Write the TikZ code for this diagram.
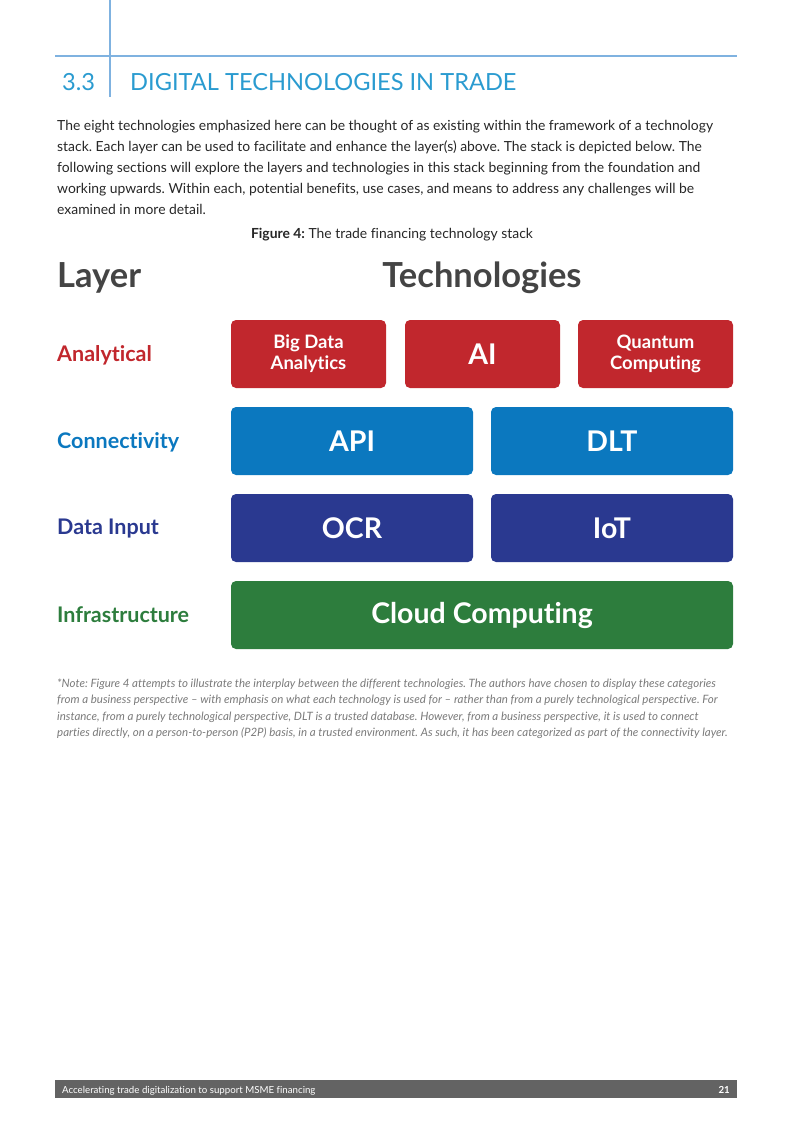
\documentclass[tikz,border=0pt]{standalone}
\usepackage{fontspec}
\setmainfont[Ligatures=NoCommon]{Lato}
\newfontfamily\bodyfont[Ligatures=NoCommon]{Lato}
\usepackage{tikz}
\usetikzlibrary{positioning}
\definecolor{titleblue}{HTML}{2A9BD0}
\definecolor{ruleblue}{HTML}{7FB2E0}
\definecolor{redtech}{HTML}{C1272D}
\definecolor{bluetech}{HTML}{0B78BF}
\definecolor{navytech}{HTML}{2A3990}
\definecolor{greentech}{HTML}{2D7D3D}
\definecolor{headgray}{HTML}{444444}
\definecolor{notegray}{HTML}{7A7A7A}
\definecolor{footgray}{HTML}{636363}
\frenchspacing
\tikzset{
  techbox/.style={rounded corners=5pt, text=white, align=center, inner sep=0pt,
    font=\bfseries\fontsize{28.5}{30}\selectfont},
  smallbox/.style={techbox, font=\bfseries\fontsize{18.5}{21}\selectfont},
  layerlabel/.style={anchor=west, inner sep=0pt, font=\bfseries\fontsize{21.5}{24}\selectfont},
  bodyline/.style={anchor=base west, inner sep=0pt, text=black!85,
    font=\bodyfont\fontsize{13.9}{15}\selectfont},
  noteline/.style={anchor=base west, inner sep=0pt, text=notegray,
    font=\itshape\fontsize{11.5}{12}\selectfont},
}
\begin{document}
\begin{tikzpicture}[x=1pt, y=-1pt]
\useasboundingbox (0,0) rectangle (793,1122);
% heading
\draw[ruleblue, line width=1.2pt] (55,56) -- (737,56);
\draw[ruleblue, line width=1.2pt] (110,0) -- (110,97);
\node[anchor=base west, inner sep=0pt, text=titleblue, font=\fontsize{23.6}{26}\selectfont] (secnum) at (62,90) {3.3};
\node[anchor=base west, inner sep=0pt, text=titleblue, font=\fontsize{23.6}{26}\selectfont] (sectitle) at (130,90) {DIGITAL TECHNOLOGIES IN TRADE};
% body
\node[bodyline] (body1) at (57,130) {The eight technologies emphasized here can be thought of as existing within the framework of a technology};
\node[bodyline] (body2) at (57,151) {stack. Each layer can be used to facilitate and enhance the layer(s) above. The stack is depicted below. The};
\node[bodyline] (body3) at (57,172) {following sections will explore the layers and technologies in this stack beginning from the foundation and};
\node[bodyline] (body4) at (57,193) {working upwards. Within each, potential benefits, use cases, and means to address any challenges will be};
\node[bodyline] (body5) at (57,214) {examined in more detail.};
\node[anchor=base, inner sep=0pt, text=black!85, font=\bodyfont\fontsize{13.9}{15}\selectfont] (caption) at (392,238) {\textbf{Figure 4:} The trade financing technology stack};
% stack
\node[anchor=base west, inner sep=0pt, text=headgray, font=\bfseries\fontsize{34.5}{36}\selectfont] (layerhead) at (57,287) {Layer};
\node[anchor=base, inner sep=0pt, text=headgray, font=\bfseries\fontsize{34.5}{36}\selectfont] (techhead) at (482,287) {Technologies};

\node[layerlabel, text=redtech] (analytical) at (57,355) {Analytical};
\node[layerlabel, text=bluetech] (connectivity) at (57,442) {Connectivity};
\node[layerlabel, text=navytech] (datainput) at (57,529) {Data Input};
\node[layerlabel, text=greentech] (infra) at (57,615) {Infrastructure};

\node[smallbox, fill=redtech, minimum width=155pt, minimum height=68pt] (bigdata) at (308.5,354) {Big Data\\Analytics};
\node[techbox, fill=redtech, minimum width=155pt, minimum height=68pt] (ai) at (482.5,354) {AI};
\node[smallbox, fill=redtech, minimum width=155pt, minimum height=68pt] (quantum) at (655.5,354) {Quantum\\Computing};
\node[techbox, fill=bluetech, minimum width=242pt, minimum height=68pt] (api) at (352,441) {API};
\node[techbox, fill=bluetech, minimum width=242pt, minimum height=68pt] (dlt) at (612,441) {DLT};
\node[techbox, fill=navytech, minimum width=242pt, minimum height=68pt] (ocr) at (352,528) {OCR};
\node[techbox, fill=navytech, minimum width=242pt, minimum height=68pt] (iot) at (612,528) {IoT};
\node[techbox, fill=greentech, minimum width=502pt, minimum height=68pt] (cloud) at (482,615) {Cloud Computing};
% note
\node[noteline] (note1) at (57,687) {*Note: Figure 4 attempts to illustrate the interplay between the different technologies. The authors have chosen to display these categories};
\node[noteline] (note2) at (57,703) {from a business perspective -- with emphasis on what each technology is used for -- rather than from a purely technological perspective. For};
\node[noteline] (note3) at (57,720) {instance, from a purely technological perspective, DLT is a trusted database. However, from a business perspective, it is used to connect};
\node[noteline] (note4) at (57,736) {parties directly, on a person-to-person (P2P) basis, in a trusted environment. As such, it has been categorized as part of the connectivity layer.};
% footer
\fill[footgray] (55,1080) rectangle (737,1098);
\node[anchor=base west, inner sep=0pt, text=white, font=\fontsize{9.7}{11}\selectfont] (foottext) at (62,1093) {Accelerating trade digitalization to support MSME financing};
\node[anchor=base east, inner sep=0pt, text=white, font=\bfseries\fontsize{9.7}{11}\selectfont] (pagenum) at (730,1093) {21};
\end{tikzpicture}
\end{document}
